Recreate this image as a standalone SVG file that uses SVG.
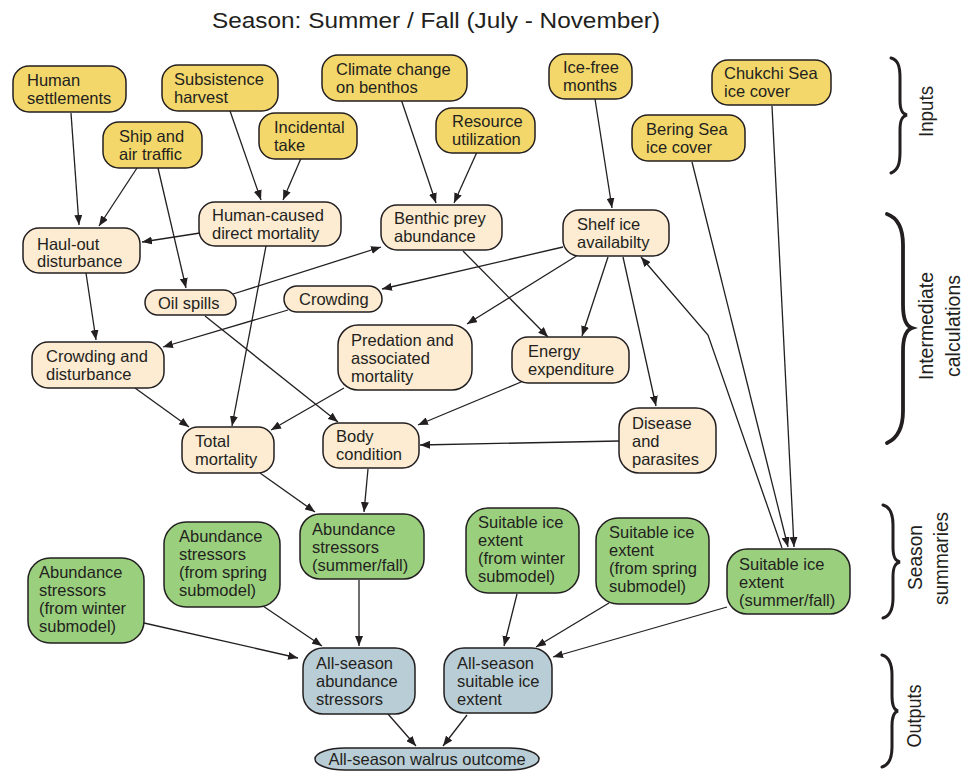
<svg xmlns="http://www.w3.org/2000/svg" width="975" height="771" viewBox="0 0 975 771">
<style>
.nd rect{stroke:#231f20;stroke-width:1.5}
.in rect{fill:#f4d76a}
.im rect{fill:#fdebd2}
.ss rect{fill:#9acf7e}
.ou rect{fill:#b9cdd6}
.nd text{font-family:"Liberation Sans",Arial,sans-serif;font-size:16.5px;fill:#231f20}
.edges line,.edges polyline{stroke:#231f20;stroke-width:1.3;fill:none}
.lbl{font-family:"Liberation Sans",Arial,sans-serif;font-size:21px;fill:#231f20}
.brace{fill:none;stroke:#231f20;stroke-width:3;stroke-linecap:round}
</style>
<defs>
<marker id="ah" viewBox="0 0 10 8" refX="10" refY="4" markerWidth="10" markerHeight="8" markerUnits="userSpaceOnUse" orient="auto"><path d="M0,0 L10,4 L0,8 z" fill="#231f20"/></marker>
</defs>
<rect width="975" height="771" fill="#fff"/>
<text x="436" y="28" text-anchor="middle" font-family="Liberation Sans,Arial,sans-serif" font-size="22" fill="#231f20" textLength="448" lengthAdjust="spacingAndGlyphs">Season: Summer / Fall (July - November)</text>

<g class="edges" marker-end="url(#ah)">
<line x1="71" y1="113" x2="79" y2="225"/>
<line x1="137" y1="168" x2="99" y2="226"/>
<line x1="158" y1="168" x2="186" y2="288"/>
<line x1="229" y1="108" x2="261" y2="200"/>
<line x1="302" y1="156" x2="283" y2="200"/>
<line x1="200" y1="233" x2="142" y2="242"/>
<line x1="266" y1="246" x2="232" y2="426"/>
<line x1="233" y1="294" x2="381" y2="247"/>
<line x1="205" y1="316" x2="338" y2="422"/>
<line x1="288" y1="310" x2="163" y2="347"/>
<line x1="563" y1="247" x2="382" y2="289"/>
<line x1="578" y1="255" x2="467" y2="324"/>
<line x1="608" y1="257" x2="582" y2="336"/>
<line x1="623" y1="257" x2="656" y2="406"/>
<line x1="463" y1="251" x2="548" y2="337"/>
<line x1="401" y1="99" x2="436" y2="203"/>
<line x1="477" y1="152" x2="454" y2="203"/>
<line x1="595" y1="99" x2="612" y2="208"/>
<polyline points="782,548 708,335 641,257"/>
<line x1="692" y1="162" x2="788" y2="547"/>
<line x1="772" y1="106" x2="794" y2="547"/>
<line x1="135" y1="388" x2="189" y2="427"/>
<line x1="86" y1="273" x2="96" y2="340"/>
<line x1="344" y1="388" x2="271" y2="430"/>
<line x1="521" y1="382" x2="418" y2="425"/>
<line x1="619" y1="441" x2="420" y2="445"/>
<line x1="260" y1="473" x2="315" y2="512"/>
<line x1="368" y1="469" x2="364" y2="512"/>
<line x1="359" y1="580" x2="359" y2="646"/>
<line x1="263" y1="606" x2="322" y2="646"/>
<line x1="144" y1="623" x2="298" y2="658"/>
<line x1="388" y1="714" x2="416" y2="746"/>
<line x1="467" y1="715" x2="443" y2="746"/>
<line x1="517" y1="594" x2="504" y2="646"/>
<line x1="609" y1="603" x2="536" y2="647"/>
<line x1="727" y1="607" x2="553" y2="657"/>
</g>

<g id="n-human-settlements" class="nd in"><rect x="13" y="66" width="113" height="46" rx="16"/><text><tspan x="27" y="86">Human</tspan><tspan x="27" y="104">settlements</tspan></text></g>
<g id="n-subsistence-harvest" class="nd in"><rect x="162" y="65" width="116" height="46" rx="16"/><text><tspan x="174" y="85">Subsistence</tspan><tspan x="174" y="103">harvest</tspan></text></g>
<g id="n-ship-air-traffic" class="nd in"><rect x="103" y="122" width="99" height="46" rx="16"/><text><tspan x="119" y="142">Ship and</tspan><tspan x="119" y="160">air traffic</tspan></text></g>
<g id="n-incidental-take" class="nd in"><rect x="259" y="113" width="98" height="46" rx="16"/><text><tspan x="274" y="133">Incidental</tspan><tspan x="274" y="151">take</tspan></text></g>
<g id="n-climate-change" class="nd in"><rect x="322" y="55" width="145" height="46" rx="16"/><text><tspan x="336" y="75">Climate change</tspan><tspan x="336" y="93">on benthos</tspan></text></g>
<g id="n-resource-utilization" class="nd in"><rect x="436" y="108" width="99" height="45" rx="16"/><text><tspan x="452" y="127">Resource</tspan><tspan x="452" y="145">utilization</tspan></text></g>
<g id="n-ice-free-months" class="nd in"><rect x="549" y="54" width="83" height="45" rx="16"/><text><tspan x="563" y="73">Ice-free</tspan><tspan x="563" y="91">months</tspan></text></g>
<g id="n-chukchi" class="nd in"><rect x="712" y="60" width="119" height="45" rx="16"/><text><tspan x="724" y="79">Chukchi Sea</tspan><tspan x="724" y="97">ice cover</tspan></text></g>
<g id="n-bering" class="nd in"><rect x="632" y="115" width="113" height="46" rx="16"/><text><tspan x="646" y="135">Bering Sea</tspan><tspan x="646" y="153">ice cover</tspan></text></g>

<g id="n-human-caused" class="nd im"><rect x="199" y="202" width="142" height="44" rx="16"/><text><tspan x="212" y="221">Human-caused</tspan><tspan x="212" y="239">direct mortality</tspan></text></g>
<g id="n-haul-out" class="nd im"><rect x="23" y="228" width="117" height="45" rx="16"/><text><tspan x="37" y="250">Haul-out</tspan><tspan x="37" y="267">disturbance</tspan></text></g>
<g id="n-benthic-prey" class="nd im"><rect x="381" y="205" width="121" height="45" rx="16"/><text><tspan x="394" y="224">Benthic prey</tspan><tspan x="394" y="242">abundance</tspan></text></g>
<g id="n-shelf-ice" class="nd im"><rect x="563" y="210" width="106" height="46" rx="16"/><text><tspan x="577" y="230">Shelf ice</tspan><tspan x="577" y="248">availabilty</tspan></text></g>
<g id="n-oil-spills" class="nd im"><rect x="145" y="290" width="91" height="25" rx="12.5"/><text><tspan x="158" y="308.5">Oil spills</tspan></text></g>
<g id="n-crowding" class="nd im"><rect x="284" y="286" width="98" height="26" rx="13"/><text><tspan x="299" y="305">Crowding</tspan></text></g>
<g id="n-crowding-disturbance" class="nd im"><rect x="32" y="342" width="132" height="46" rx="16"/><text><tspan x="46" y="362">Crowding and</tspan><tspan x="46" y="380">disturbance</tspan></text></g>
<g id="n-predation" class="nd im"><rect x="338" y="325" width="134" height="65" rx="20"/><text><tspan x="351" y="345.5">Predation and</tspan><tspan x="351" y="363.5">associated</tspan><tspan x="351" y="381.5">mortality</tspan></text></g>
<g id="n-energy" class="nd im"><rect x="512" y="337" width="117" height="46" rx="16"/><text><tspan x="528" y="357">Energy</tspan><tspan x="528" y="375">expenditure</tspan></text></g>
<g id="n-disease" class="nd im"><rect x="619" y="408" width="97" height="65" rx="20"/><text><tspan x="632" y="428.5">Disease</tspan><tspan x="632" y="446.5">and</tspan><tspan x="632" y="464.5">parasites</tspan></text></g>
<g id="n-total-mortality" class="nd im"><rect x="182" y="427" width="92" height="46" rx="16"/><text><tspan x="195" y="447">Total</tspan><tspan x="195" y="465">mortality</tspan></text></g>
<g id="n-body-condition" class="nd im"><rect x="323" y="423" width="96" height="45" rx="16"/><text><tspan x="336" y="442">Body</tspan><tspan x="336" y="460">condition</tspan></text></g>

<g id="n-abund-summer" class="nd ss"><rect x="300" y="514" width="124" height="65" rx="20"/><text><tspan x="312" y="534.5">Abundance</tspan><tspan x="312" y="552.5">stressors</tspan><tspan x="312" y="570.5">(summer/fall)</tspan></text></g>
<g id="n-abund-spring" class="nd ss"><rect x="164" y="522" width="116" height="85" rx="22"/><text><tspan x="179" y="541.5">Abundance</tspan><tspan x="179" y="559.5">stressors</tspan><tspan x="179" y="577.5">(from spring</tspan><tspan x="179" y="595.5">submodel)</tspan></text></g>
<g id="n-abund-winter" class="nd ss"><rect x="28" y="558" width="116" height="85" rx="22"/><text><tspan x="39" y="577.5">Abundance</tspan><tspan x="39" y="595.5">stressors</tspan><tspan x="39" y="613.5">(from winter</tspan><tspan x="39" y="631.5">submodel)</tspan></text></g>
<g id="n-ice-winter" class="nd ss"><rect x="466" y="508" width="113" height="85" rx="22"/><text><tspan x="478" y="527.5">Suitable ice</tspan><tspan x="478" y="545.5">extent</tspan><tspan x="478" y="563.5">(from winter</tspan><tspan x="478" y="581.5">submodel)</tspan></text></g>
<g id="n-ice-spring" class="nd ss"><rect x="596" y="518" width="113" height="86" rx="22"/><text><tspan x="609" y="538">Suitable ice</tspan><tspan x="609" y="556">extent</tspan><tspan x="609" y="574">(from spring</tspan><tspan x="609" y="592">submodel)</tspan></text></g>
<g id="n-ice-summer" class="nd ss"><rect x="727" y="549" width="123" height="65" rx="20"/><text><tspan x="739" y="569.5">Suitable ice</tspan><tspan x="739" y="587.5">extent</tspan><tspan x="739" y="605.5">(summer/fall)</tspan></text></g>

<g id="n-all-abund" class="nd ou"><rect x="303" y="648" width="112" height="66" rx="20"/><text><tspan x="316" y="669">All-season</tspan><tspan x="316" y="687">abundance</tspan><tspan x="316" y="705">stressors</tspan></text></g>
<g id="n-all-ice" class="nd ou"><rect x="444" y="648" width="108" height="65" rx="20"/><text><tspan x="457" y="668.5">All-season</tspan><tspan x="457" y="686.5">suitable ice</tspan><tspan x="457" y="704.5">extent</tspan></text></g>
<g id="n-walrus-outcome" class="nd ou"><rect x="315" y="748" width="224" height="22" rx="30" ry="11"/><text><tspan x="427" y="765" text-anchor="middle">All-season walrus outcome</tspan></text></g>

<g id="braces">
<path class="brace" d="M891,58 C898,60 900,66 900,78 L900,100 C900,110 902,114 907,115 C902,116 900,120 900,130 L900,152 C900,164 898,170 891,173"/>
<path class="brace" style="stroke-width:3.8" d="M887,214 C898,218 903,228 903,245 L903,305 C903,318 906,326 912,328 C906,330 903,338 903,351 L903,411 C903,428 898,438 887,443"/>
<path class="brace" d="M883,505 C890,507 893,513 893,525 L893,547 C893,557 895,561 900,562 C895,563 893,567 893,577 L893,598 C893,610 890,616 883,618"/>
<path class="brace" d="M882,655 C889,657 892,663 892,675 L892,696 C892,706 894,710 898,711 C894,712 892,716 892,726 L892,747 C892,759 889,765 882,767"/>
</g>
<g id="labels">
<text class="lbl" transform="translate(933,111.5) rotate(-90)" text-anchor="middle" textLength="51" lengthAdjust="spacingAndGlyphs">Inputs</text>
<text class="lbl" transform="translate(933,326) rotate(-90)" text-anchor="middle" textLength="108" lengthAdjust="spacingAndGlyphs">Intermediate</text>
<text class="lbl" transform="translate(960,326) rotate(-90)" text-anchor="middle" textLength="102" lengthAdjust="spacingAndGlyphs">calculations</text>
<text class="lbl" transform="translate(922,557.5) rotate(-90)" text-anchor="middle" textLength="65" lengthAdjust="spacingAndGlyphs">Season</text>
<text class="lbl" transform="translate(948,558.5) rotate(-90)" text-anchor="middle" textLength="93" lengthAdjust="spacingAndGlyphs">summaries</text>
<text class="lbl" transform="translate(921,716) rotate(-90)" text-anchor="middle" textLength="63" lengthAdjust="spacingAndGlyphs">Outputs</text>
</g>
</svg>
